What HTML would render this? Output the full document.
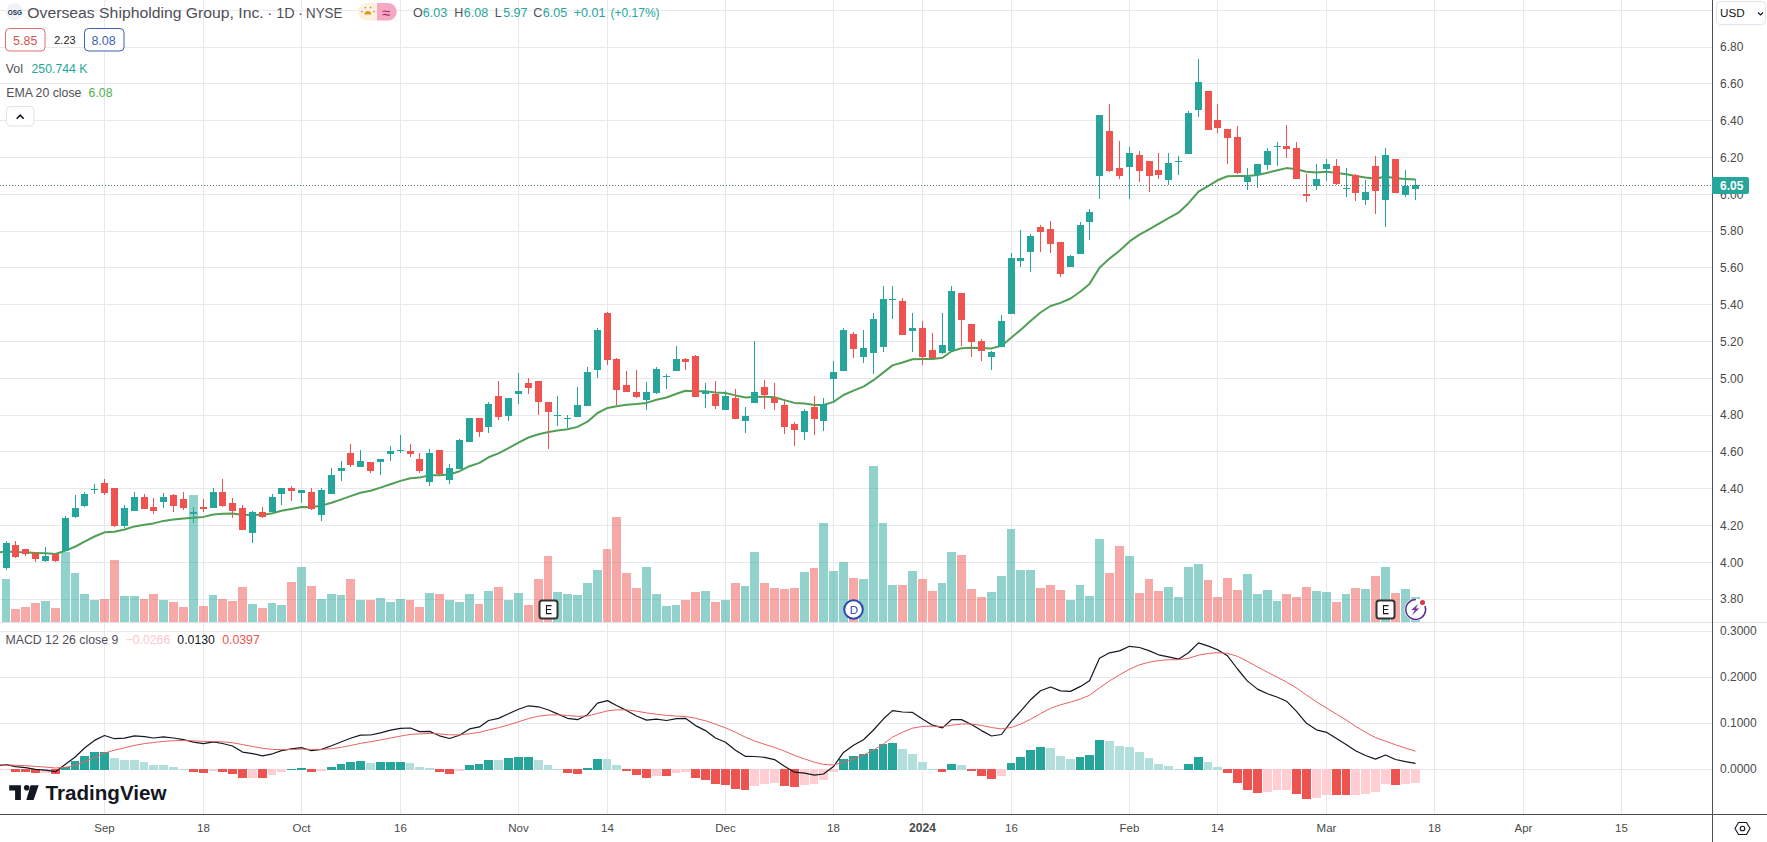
<!DOCTYPE html>
<html><head><meta charset="utf-8">
<style>
html,body{margin:0;padding:0;background:#fff;}
body{width:1767px;height:842px;position:relative;overflow:hidden;font-family:"Liberation Sans",sans-serif;}
svg{position:absolute;left:0;top:0;font-family:"Liberation Sans",sans-serif;}
</style></head><body>
<svg width="1767" height="842" viewBox="0 0 1767 842">
<g shape-rendering="crispEdges">
<line x1="0" y1="10.5" x2="1712" y2="10.5" stroke="#e7e9ec"/>
<line x1="0" y1="47.5" x2="1712" y2="47.5" stroke="#e7e9ec"/>
<line x1="0" y1="83.5" x2="1712" y2="83.5" stroke="#e7e9ec"/>
<line x1="0" y1="120.5" x2="1712" y2="120.5" stroke="#e7e9ec"/>
<line x1="0" y1="157.5" x2="1712" y2="157.5" stroke="#e7e9ec"/>
<line x1="0" y1="194.5" x2="1712" y2="194.5" stroke="#e7e9ec"/>
<line x1="0" y1="231.5" x2="1712" y2="231.5" stroke="#e7e9ec"/>
<line x1="0" y1="267.5" x2="1712" y2="267.5" stroke="#e7e9ec"/>
<line x1="0" y1="304.5" x2="1712" y2="304.5" stroke="#e7e9ec"/>
<line x1="0" y1="341.5" x2="1712" y2="341.5" stroke="#e7e9ec"/>
<line x1="0" y1="378.5" x2="1712" y2="378.5" stroke="#e7e9ec"/>
<line x1="0" y1="415.5" x2="1712" y2="415.5" stroke="#e7e9ec"/>
<line x1="0" y1="451.5" x2="1712" y2="451.5" stroke="#e7e9ec"/>
<line x1="0" y1="488.5" x2="1712" y2="488.5" stroke="#e7e9ec"/>
<line x1="0" y1="525.5" x2="1712" y2="525.5" stroke="#e7e9ec"/>
<line x1="0" y1="562.5" x2="1712" y2="562.5" stroke="#e7e9ec"/>
<line x1="0" y1="599.5" x2="1712" y2="599.5" stroke="#e7e9ec"/>
<line x1="0" y1="631.5" x2="1712" y2="631.5" stroke="#e7e9ec"/>
<line x1="0" y1="677.5" x2="1712" y2="677.5" stroke="#e7e9ec"/>
<line x1="0" y1="723.5" x2="1712" y2="723.5" stroke="#e7e9ec"/>
<line x1="0" y1="769.5" x2="1712" y2="769.5" stroke="#e7e9ec"/>
<line x1="104.5" y1="0" x2="104.5" y2="814" stroke="#e7e9ec"/>
<line x1="203.5" y1="0" x2="203.5" y2="814" stroke="#e7e9ec"/>
<line x1="301.5" y1="0" x2="301.5" y2="814" stroke="#e7e9ec"/>
<line x1="400.5" y1="0" x2="400.5" y2="814" stroke="#e7e9ec"/>
<line x1="518.5" y1="0" x2="518.5" y2="814" stroke="#e7e9ec"/>
<line x1="607.5" y1="0" x2="607.5" y2="814" stroke="#e7e9ec"/>
<line x1="725.5" y1="0" x2="725.5" y2="814" stroke="#e7e9ec"/>
<line x1="833.5" y1="0" x2="833.5" y2="814" stroke="#e7e9ec"/>
<line x1="922.5" y1="0" x2="922.5" y2="814" stroke="#e7e9ec"/>
<line x1="1011.5" y1="0" x2="1011.5" y2="814" stroke="#e7e9ec"/>
<line x1="1129.5" y1="0" x2="1129.5" y2="814" stroke="#e7e9ec"/>
<line x1="1217.5" y1="0" x2="1217.5" y2="814" stroke="#e7e9ec"/>
<line x1="1326.5" y1="0" x2="1326.5" y2="814" stroke="#e7e9ec"/>
<line x1="1434.5" y1="0" x2="1434.5" y2="814" stroke="#e7e9ec"/>
<line x1="1523.5" y1="0" x2="1523.5" y2="814" stroke="#e7e9ec"/>
<line x1="1621.5" y1="0" x2="1621.5" y2="814" stroke="#e7e9ec"/>
<rect x="2" y="579" width="8" height="43" fill="#26a69a" fill-opacity="0.5"/>
<rect x="11" y="609" width="9" height="13" fill="#ef5350" fill-opacity="0.5"/>
<rect x="21" y="607" width="9" height="15" fill="#ef5350" fill-opacity="0.5"/>
<rect x="31" y="603" width="9" height="19" fill="#ef5350" fill-opacity="0.5"/>
<rect x="41" y="601" width="9" height="21" fill="#26a69a" fill-opacity="0.5"/>
<rect x="51" y="608" width="9" height="14" fill="#ef5350" fill-opacity="0.5"/>
<rect x="61" y="552" width="9" height="70" fill="#26a69a" fill-opacity="0.5"/>
<rect x="71" y="573" width="8" height="49" fill="#26a69a" fill-opacity="0.5"/>
<rect x="80" y="594" width="9" height="28" fill="#26a69a" fill-opacity="0.5"/>
<rect x="90" y="600" width="9" height="22" fill="#26a69a" fill-opacity="0.5"/>
<rect x="100" y="599" width="9" height="23" fill="#ef5350" fill-opacity="0.5"/>
<rect x="110" y="560" width="9" height="62" fill="#ef5350" fill-opacity="0.5"/>
<rect x="120" y="596" width="9" height="26" fill="#26a69a" fill-opacity="0.5"/>
<rect x="130" y="596" width="9" height="26" fill="#26a69a" fill-opacity="0.5"/>
<rect x="140" y="599" width="8" height="23" fill="#ef5350" fill-opacity="0.5"/>
<rect x="149" y="594" width="9" height="28" fill="#ef5350" fill-opacity="0.5"/>
<rect x="159" y="600" width="9" height="22" fill="#26a69a" fill-opacity="0.5"/>
<rect x="169" y="602" width="9" height="20" fill="#ef5350" fill-opacity="0.5"/>
<rect x="179" y="607" width="9" height="15" fill="#ef5350" fill-opacity="0.5"/>
<rect x="189" y="495" width="9" height="127" fill="#26a69a" fill-opacity="0.5"/>
<rect x="199" y="606" width="9" height="16" fill="#ef5350" fill-opacity="0.5"/>
<rect x="209" y="595" width="8" height="27" fill="#26a69a" fill-opacity="0.5"/>
<rect x="218" y="599" width="9" height="23" fill="#ef5350" fill-opacity="0.5"/>
<rect x="228" y="601" width="9" height="21" fill="#ef5350" fill-opacity="0.5"/>
<rect x="238" y="587" width="9" height="35" fill="#ef5350" fill-opacity="0.5"/>
<rect x="248" y="604" width="9" height="18" fill="#26a69a" fill-opacity="0.5"/>
<rect x="258" y="608" width="9" height="14" fill="#ef5350" fill-opacity="0.5"/>
<rect x="268" y="603" width="8" height="19" fill="#26a69a" fill-opacity="0.5"/>
<rect x="277" y="605" width="9" height="17" fill="#26a69a" fill-opacity="0.5"/>
<rect x="287" y="582" width="9" height="40" fill="#ef5350" fill-opacity="0.5"/>
<rect x="297" y="567" width="9" height="55" fill="#26a69a" fill-opacity="0.5"/>
<rect x="307" y="586" width="9" height="36" fill="#ef5350" fill-opacity="0.5"/>
<rect x="317" y="599" width="9" height="23" fill="#26a69a" fill-opacity="0.5"/>
<rect x="327" y="594" width="9" height="28" fill="#26a69a" fill-opacity="0.5"/>
<rect x="337" y="595" width="8" height="27" fill="#26a69a" fill-opacity="0.5"/>
<rect x="346" y="579" width="9" height="43" fill="#ef5350" fill-opacity="0.5"/>
<rect x="356" y="600" width="9" height="22" fill="#26a69a" fill-opacity="0.5"/>
<rect x="366" y="600" width="9" height="22" fill="#ef5350" fill-opacity="0.5"/>
<rect x="376" y="598" width="9" height="24" fill="#26a69a" fill-opacity="0.5"/>
<rect x="386" y="602" width="9" height="20" fill="#26a69a" fill-opacity="0.5"/>
<rect x="396" y="599" width="9" height="23" fill="#26a69a" fill-opacity="0.5"/>
<rect x="406" y="600" width="8" height="22" fill="#ef5350" fill-opacity="0.5"/>
<rect x="415" y="607" width="9" height="15" fill="#ef5350" fill-opacity="0.5"/>
<rect x="425" y="593" width="9" height="29" fill="#26a69a" fill-opacity="0.5"/>
<rect x="435" y="594" width="9" height="28" fill="#ef5350" fill-opacity="0.5"/>
<rect x="445" y="600" width="9" height="22" fill="#26a69a" fill-opacity="0.5"/>
<rect x="455" y="602" width="9" height="20" fill="#26a69a" fill-opacity="0.5"/>
<rect x="465" y="594" width="9" height="28" fill="#26a69a" fill-opacity="0.5"/>
<rect x="475" y="604" width="8" height="18" fill="#ef5350" fill-opacity="0.5"/>
<rect x="484" y="591" width="9" height="31" fill="#26a69a" fill-opacity="0.5"/>
<rect x="494" y="587" width="9" height="35" fill="#ef5350" fill-opacity="0.5"/>
<rect x="504" y="600" width="9" height="22" fill="#26a69a" fill-opacity="0.5"/>
<rect x="514" y="593" width="9" height="29" fill="#26a69a" fill-opacity="0.5"/>
<rect x="524" y="605" width="9" height="17" fill="#ef5350" fill-opacity="0.5"/>
<rect x="534" y="579" width="9" height="43" fill="#ef5350" fill-opacity="0.5"/>
<rect x="544" y="556" width="8" height="66" fill="#ef5350" fill-opacity="0.5"/>
<rect x="553" y="592" width="9" height="30" fill="#26a69a" fill-opacity="0.5"/>
<rect x="563" y="594" width="9" height="28" fill="#26a69a" fill-opacity="0.5"/>
<rect x="573" y="595" width="9" height="27" fill="#26a69a" fill-opacity="0.5"/>
<rect x="583" y="583" width="9" height="39" fill="#26a69a" fill-opacity="0.5"/>
<rect x="593" y="570" width="9" height="52" fill="#26a69a" fill-opacity="0.5"/>
<rect x="603" y="549" width="8" height="73" fill="#ef5350" fill-opacity="0.5"/>
<rect x="612" y="517" width="9" height="105" fill="#ef5350" fill-opacity="0.5"/>
<rect x="622" y="573" width="9" height="49" fill="#ef5350" fill-opacity="0.5"/>
<rect x="632" y="588" width="9" height="34" fill="#ef5350" fill-opacity="0.5"/>
<rect x="642" y="567" width="9" height="55" fill="#26a69a" fill-opacity="0.5"/>
<rect x="652" y="594" width="9" height="28" fill="#26a69a" fill-opacity="0.5"/>
<rect x="662" y="606" width="9" height="16" fill="#26a69a" fill-opacity="0.5"/>
<rect x="672" y="605" width="8" height="17" fill="#26a69a" fill-opacity="0.5"/>
<rect x="681" y="600" width="9" height="22" fill="#ef5350" fill-opacity="0.5"/>
<rect x="691" y="592" width="9" height="30" fill="#ef5350" fill-opacity="0.5"/>
<rect x="701" y="591" width="9" height="31" fill="#26a69a" fill-opacity="0.5"/>
<rect x="711" y="602" width="9" height="20" fill="#ef5350" fill-opacity="0.5"/>
<rect x="721" y="600" width="9" height="22" fill="#26a69a" fill-opacity="0.5"/>
<rect x="731" y="583" width="9" height="39" fill="#ef5350" fill-opacity="0.5"/>
<rect x="741" y="586" width="8" height="36" fill="#26a69a" fill-opacity="0.5"/>
<rect x="750" y="552" width="9" height="70" fill="#26a69a" fill-opacity="0.5"/>
<rect x="760" y="583" width="9" height="39" fill="#ef5350" fill-opacity="0.5"/>
<rect x="770" y="588" width="9" height="34" fill="#ef5350" fill-opacity="0.5"/>
<rect x="780" y="589" width="9" height="33" fill="#ef5350" fill-opacity="0.5"/>
<rect x="790" y="588" width="9" height="34" fill="#ef5350" fill-opacity="0.5"/>
<rect x="800" y="572" width="9" height="50" fill="#26a69a" fill-opacity="0.5"/>
<rect x="810" y="568" width="8" height="54" fill="#ef5350" fill-opacity="0.5"/>
<rect x="819" y="523" width="9" height="99" fill="#26a69a" fill-opacity="0.5"/>
<rect x="829" y="571" width="9" height="51" fill="#26a69a" fill-opacity="0.5"/>
<rect x="839" y="562" width="9" height="60" fill="#26a69a" fill-opacity="0.5"/>
<rect x="849" y="578" width="9" height="44" fill="#ef5350" fill-opacity="0.5"/>
<rect x="859" y="579" width="9" height="43" fill="#26a69a" fill-opacity="0.5"/>
<rect x="869" y="466" width="9" height="156" fill="#26a69a" fill-opacity="0.5"/>
<rect x="879" y="523" width="8" height="99" fill="#26a69a" fill-opacity="0.5"/>
<rect x="888" y="585" width="9" height="37" fill="#26a69a" fill-opacity="0.5"/>
<rect x="898" y="585" width="9" height="37" fill="#ef5350" fill-opacity="0.5"/>
<rect x="908" y="571" width="9" height="51" fill="#26a69a" fill-opacity="0.5"/>
<rect x="918" y="579" width="9" height="43" fill="#ef5350" fill-opacity="0.5"/>
<rect x="928" y="591" width="9" height="31" fill="#ef5350" fill-opacity="0.5"/>
<rect x="938" y="583" width="8" height="39" fill="#26a69a" fill-opacity="0.5"/>
<rect x="947" y="552" width="9" height="70" fill="#26a69a" fill-opacity="0.5"/>
<rect x="957" y="555" width="9" height="67" fill="#ef5350" fill-opacity="0.5"/>
<rect x="967" y="589" width="9" height="33" fill="#ef5350" fill-opacity="0.5"/>
<rect x="977" y="597" width="9" height="25" fill="#ef5350" fill-opacity="0.5"/>
<rect x="987" y="592" width="9" height="30" fill="#26a69a" fill-opacity="0.5"/>
<rect x="997" y="576" width="9" height="46" fill="#26a69a" fill-opacity="0.5"/>
<rect x="1007" y="529" width="8" height="93" fill="#26a69a" fill-opacity="0.5"/>
<rect x="1016" y="570" width="9" height="52" fill="#26a69a" fill-opacity="0.5"/>
<rect x="1026" y="570" width="9" height="52" fill="#26a69a" fill-opacity="0.5"/>
<rect x="1036" y="588" width="9" height="34" fill="#ef5350" fill-opacity="0.5"/>
<rect x="1046" y="585" width="9" height="37" fill="#ef5350" fill-opacity="0.5"/>
<rect x="1056" y="590" width="9" height="32" fill="#ef5350" fill-opacity="0.5"/>
<rect x="1066" y="600" width="9" height="22" fill="#26a69a" fill-opacity="0.5"/>
<rect x="1076" y="585" width="8" height="37" fill="#26a69a" fill-opacity="0.5"/>
<rect x="1085" y="596" width="9" height="26" fill="#26a69a" fill-opacity="0.5"/>
<rect x="1095" y="539" width="9" height="83" fill="#26a69a" fill-opacity="0.5"/>
<rect x="1105" y="573" width="9" height="49" fill="#ef5350" fill-opacity="0.5"/>
<rect x="1115" y="546" width="9" height="76" fill="#ef5350" fill-opacity="0.5"/>
<rect x="1125" y="556" width="9" height="66" fill="#26a69a" fill-opacity="0.5"/>
<rect x="1135" y="593" width="9" height="29" fill="#ef5350" fill-opacity="0.5"/>
<rect x="1145" y="579" width="8" height="43" fill="#ef5350" fill-opacity="0.5"/>
<rect x="1154" y="591" width="9" height="31" fill="#ef5350" fill-opacity="0.5"/>
<rect x="1164" y="587" width="9" height="35" fill="#26a69a" fill-opacity="0.5"/>
<rect x="1174" y="597" width="9" height="25" fill="#26a69a" fill-opacity="0.5"/>
<rect x="1184" y="567" width="9" height="55" fill="#26a69a" fill-opacity="0.5"/>
<rect x="1194" y="564" width="9" height="58" fill="#26a69a" fill-opacity="0.5"/>
<rect x="1204" y="580" width="8" height="42" fill="#ef5350" fill-opacity="0.5"/>
<rect x="1213" y="597" width="9" height="25" fill="#ef5350" fill-opacity="0.5"/>
<rect x="1223" y="578" width="9" height="44" fill="#ef5350" fill-opacity="0.5"/>
<rect x="1233" y="590" width="9" height="32" fill="#ef5350" fill-opacity="0.5"/>
<rect x="1243" y="574" width="9" height="48" fill="#26a69a" fill-opacity="0.5"/>
<rect x="1253" y="594" width="9" height="28" fill="#26a69a" fill-opacity="0.5"/>
<rect x="1263" y="590" width="9" height="32" fill="#26a69a" fill-opacity="0.5"/>
<rect x="1273" y="601" width="8" height="21" fill="#26a69a" fill-opacity="0.5"/>
<rect x="1282" y="594" width="9" height="28" fill="#ef5350" fill-opacity="0.5"/>
<rect x="1292" y="597" width="9" height="25" fill="#ef5350" fill-opacity="0.5"/>
<rect x="1302" y="587" width="9" height="35" fill="#ef5350" fill-opacity="0.5"/>
<rect x="1312" y="591" width="9" height="31" fill="#26a69a" fill-opacity="0.5"/>
<rect x="1322" y="592" width="9" height="30" fill="#26a69a" fill-opacity="0.5"/>
<rect x="1332" y="602" width="9" height="20" fill="#ef5350" fill-opacity="0.5"/>
<rect x="1342" y="594" width="8" height="28" fill="#26a69a" fill-opacity="0.5"/>
<rect x="1351" y="588" width="9" height="34" fill="#ef5350" fill-opacity="0.5"/>
<rect x="1361" y="589" width="9" height="33" fill="#26a69a" fill-opacity="0.5"/>
<rect x="1371" y="576" width="9" height="46" fill="#ef5350" fill-opacity="0.5"/>
<rect x="1381" y="567" width="9" height="55" fill="#26a69a" fill-opacity="0.5"/>
<rect x="1391" y="593" width="9" height="29" fill="#ef5350" fill-opacity="0.5"/>
<rect x="1401" y="589" width="9" height="33" fill="#26a69a" fill-opacity="0.5"/>
<rect x="1411" y="597" width="9" height="25" fill="#26a69a" fill-opacity="0.5"/>
<polyline shape-rendering="geometricPrecision" points="-3.8,552.5 6.5,551.6 15.5,552.1 25.5,552.3 35.5,552.9 45.5,553.3 55.5,554.0 65.5,550.6 75.5,546.5 84.5,541.6 94.5,536.5 104.5,532.3 114.5,531.7 124.5,529.5 134.5,526.4 144.5,524.7 153.5,523.4 163.5,520.9 173.5,519.5 183.5,518.4 193.5,517.8 203.5,516.9 213.5,514.5 222.5,513.7 232.5,513.4 242.5,515.0 252.5,514.7 262.5,514.9 272.5,513.2 281.5,510.8 291.5,508.9 301.5,507.1 311.5,507.3 321.5,505.6 331.5,502.7 341.5,499.4 350.5,496.1 360.5,492.8 370.5,490.7 380.5,487.6 390.5,484.2 400.5,480.9 410.5,478.3 419.5,477.6 429.5,475.3 439.5,475.2 449.5,474.5 459.5,471.2 469.5,466.2 479.5,462.9 488.5,457.3 498.5,453.4 508.5,448.2 518.5,442.7 528.5,437.5 538.5,434.2 548.5,432.0 557.5,430.4 567.5,429.2 577.5,426.9 587.5,421.7 597.5,413.0 607.5,407.9 616.5,406.2 626.5,404.8 636.5,404.0 646.5,402.9 656.5,399.7 666.5,397.5 676.5,393.8 685.5,390.7 695.5,391.3 705.5,391.2 715.5,392.6 725.5,393.0 735.5,395.4 745.5,397.4 754.5,396.9 764.5,396.7 774.5,397.3 784.5,400.1 794.5,402.9 804.5,403.6 814.5,405.1 823.5,405.0 833.5,401.9 843.5,395.0 853.5,390.6 863.5,386.6 873.5,380.2 883.5,372.4 892.5,365.4 902.5,362.5 912.5,359.3 922.5,359.0 932.5,359.0 942.5,357.7 951.5,351.3 961.5,348.3 971.5,347.7 981.5,348.0 991.5,348.4 1001.5,345.8 1011.5,337.4 1020.5,329.9 1030.5,321.0 1040.5,312.5 1050.5,306.0 1060.5,302.9 1070.5,298.5 1080.5,291.5 1089.5,283.9 1099.5,267.8 1109.5,258.6 1119.5,250.7 1129.5,241.4 1139.5,234.7 1149.5,229.1 1158.5,223.9 1168.5,218.1 1178.5,212.7 1188.5,203.2 1198.5,191.7 1208.5,185.8 1217.5,180.3 1227.5,176.3 1237.5,176.0 1247.5,176.1 1257.5,174.9 1267.5,172.7 1277.5,170.2 1286.5,168.1 1296.5,169.2 1306.5,171.8 1316.5,172.5 1326.5,171.7 1336.5,172.9 1346.5,174.3 1355.5,176.1 1365.5,177.6 1375.5,178.8 1385.5,176.6 1395.5,178.2 1405.5,178.9 1415.5,179.5" fill="none" stroke="#519f55" stroke-width="2" stroke-linejoin="round"/>
<rect x="6" y="541" width="1" height="29" fill="#26a69a"/>
<rect x="3" y="543" width="7" height="25" fill="#26a69a"/>
<rect x="15" y="541" width="1" height="17" fill="#ef5350"/>
<rect x="12" y="545" width="7" height="12" fill="#ef5350"/>
<rect x="25" y="549" width="1" height="7" fill="#ef5350"/>
<rect x="22" y="549" width="7" height="5" fill="#ef5350"/>
<rect x="35" y="553" width="1" height="9" fill="#ef5350"/>
<rect x="32" y="553" width="7" height="6" fill="#ef5350"/>
<rect x="45" y="547" width="1" height="15" fill="#26a69a"/>
<rect x="42" y="556" width="7" height="5" fill="#26a69a"/>
<rect x="55" y="554" width="1" height="8" fill="#ef5350"/>
<rect x="52" y="554" width="7" height="7" fill="#ef5350"/>
<rect x="65" y="516" width="1" height="35" fill="#26a69a"/>
<rect x="62" y="518" width="7" height="33" fill="#26a69a"/>
<rect x="75" y="495" width="1" height="23" fill="#26a69a"/>
<rect x="72" y="508" width="7" height="9" fill="#26a69a"/>
<rect x="84" y="492" width="1" height="15" fill="#26a69a"/>
<rect x="81" y="494" width="7" height="12" fill="#26a69a"/>
<rect x="94" y="484" width="1" height="10" fill="#26a69a"/>
<rect x="91" y="489" width="7" height="1" fill="#26a69a"/>
<rect x="104" y="479" width="1" height="16" fill="#ef5350"/>
<rect x="101" y="483" width="7" height="10" fill="#ef5350"/>
<rect x="114" y="488" width="1" height="39" fill="#ef5350"/>
<rect x="111" y="488" width="7" height="38" fill="#ef5350"/>
<rect x="124" y="505" width="1" height="23" fill="#26a69a"/>
<rect x="121" y="508" width="7" height="18" fill="#26a69a"/>
<rect x="134" y="492" width="1" height="19" fill="#26a69a"/>
<rect x="131" y="497" width="7" height="14" fill="#26a69a"/>
<rect x="144" y="494" width="1" height="15" fill="#ef5350"/>
<rect x="141" y="497" width="7" height="12" fill="#ef5350"/>
<rect x="153" y="498" width="1" height="16" fill="#ef5350"/>
<rect x="150" y="507" width="7" height="4" fill="#ef5350"/>
<rect x="163" y="493" width="1" height="15" fill="#26a69a"/>
<rect x="160" y="497" width="7" height="5" fill="#26a69a"/>
<rect x="173" y="494" width="1" height="18" fill="#ef5350"/>
<rect x="170" y="495" width="7" height="11" fill="#ef5350"/>
<rect x="183" y="492" width="1" height="18" fill="#ef5350"/>
<rect x="180" y="499" width="7" height="9" fill="#ef5350"/>
<rect x="193" y="507" width="1" height="16" fill="#26a69a"/>
<rect x="190" y="512" width="7" height="2" fill="#26a69a"/>
<rect x="203" y="499" width="1" height="13" fill="#ef5350"/>
<rect x="200" y="507" width="7" height="2" fill="#ef5350"/>
<rect x="213" y="488" width="1" height="20" fill="#26a69a"/>
<rect x="210" y="492" width="7" height="16" fill="#26a69a"/>
<rect x="222" y="479" width="1" height="28" fill="#ef5350"/>
<rect x="219" y="492" width="7" height="14" fill="#ef5350"/>
<rect x="232" y="498" width="1" height="20" fill="#ef5350"/>
<rect x="229" y="503" width="7" height="8" fill="#ef5350"/>
<rect x="242" y="505" width="1" height="25" fill="#ef5350"/>
<rect x="239" y="508" width="7" height="22" fill="#ef5350"/>
<rect x="252" y="511" width="1" height="32" fill="#26a69a"/>
<rect x="249" y="512" width="7" height="21" fill="#26a69a"/>
<rect x="262" y="507" width="1" height="11" fill="#ef5350"/>
<rect x="259" y="512" width="7" height="5" fill="#ef5350"/>
<rect x="272" y="494" width="1" height="18" fill="#26a69a"/>
<rect x="269" y="497" width="7" height="15" fill="#26a69a"/>
<rect x="281" y="488" width="1" height="17" fill="#26a69a"/>
<rect x="278" y="488" width="7" height="6" fill="#26a69a"/>
<rect x="291" y="486" width="1" height="15" fill="#ef5350"/>
<rect x="288" y="488" width="7" height="3" fill="#ef5350"/>
<rect x="301" y="490" width="1" height="13" fill="#26a69a"/>
<rect x="298" y="490" width="7" height="3" fill="#26a69a"/>
<rect x="311" y="488" width="1" height="22" fill="#ef5350"/>
<rect x="308" y="492" width="7" height="17" fill="#ef5350"/>
<rect x="321" y="488" width="1" height="33" fill="#26a69a"/>
<rect x="318" y="490" width="7" height="25" fill="#26a69a"/>
<rect x="331" y="468" width="1" height="26" fill="#26a69a"/>
<rect x="328" y="475" width="7" height="19" fill="#26a69a"/>
<rect x="341" y="461" width="1" height="20" fill="#26a69a"/>
<rect x="338" y="468" width="7" height="3" fill="#26a69a"/>
<rect x="350" y="444" width="1" height="23" fill="#ef5350"/>
<rect x="347" y="453" width="7" height="12" fill="#ef5350"/>
<rect x="360" y="450" width="1" height="17" fill="#26a69a"/>
<rect x="357" y="461" width="7" height="6" fill="#26a69a"/>
<rect x="370" y="462" width="1" height="11" fill="#ef5350"/>
<rect x="367" y="462" width="7" height="9" fill="#ef5350"/>
<rect x="380" y="459" width="1" height="16" fill="#26a69a"/>
<rect x="377" y="459" width="7" height="3" fill="#26a69a"/>
<rect x="390" y="446" width="1" height="15" fill="#26a69a"/>
<rect x="387" y="451" width="7" height="3" fill="#26a69a"/>
<rect x="400" y="435" width="1" height="18" fill="#26a69a"/>
<rect x="397" y="450" width="7" height="1" fill="#26a69a"/>
<rect x="410" y="444" width="1" height="13" fill="#ef5350"/>
<rect x="407" y="451" width="7" height="3" fill="#ef5350"/>
<rect x="419" y="453" width="1" height="20" fill="#ef5350"/>
<rect x="416" y="459" width="7" height="12" fill="#ef5350"/>
<rect x="429" y="449" width="1" height="37" fill="#26a69a"/>
<rect x="426" y="453" width="7" height="29" fill="#26a69a"/>
<rect x="439" y="450" width="1" height="25" fill="#ef5350"/>
<rect x="436" y="450" width="7" height="24" fill="#ef5350"/>
<rect x="449" y="464" width="1" height="20" fill="#26a69a"/>
<rect x="446" y="468" width="7" height="12" fill="#26a69a"/>
<rect x="459" y="439" width="1" height="30" fill="#26a69a"/>
<rect x="456" y="440" width="7" height="29" fill="#26a69a"/>
<rect x="469" y="418" width="1" height="24" fill="#26a69a"/>
<rect x="466" y="418" width="7" height="24" fill="#26a69a"/>
<rect x="479" y="418" width="1" height="19" fill="#ef5350"/>
<rect x="476" y="418" width="7" height="14" fill="#ef5350"/>
<rect x="488" y="402" width="1" height="31" fill="#26a69a"/>
<rect x="485" y="404" width="7" height="23" fill="#26a69a"/>
<rect x="498" y="381" width="1" height="39" fill="#ef5350"/>
<rect x="495" y="396" width="7" height="21" fill="#ef5350"/>
<rect x="508" y="398" width="1" height="23" fill="#26a69a"/>
<rect x="505" y="398" width="7" height="18" fill="#26a69a"/>
<rect x="518" y="373" width="1" height="31" fill="#26a69a"/>
<rect x="515" y="391" width="7" height="3" fill="#26a69a"/>
<rect x="528" y="378" width="1" height="16" fill="#ef5350"/>
<rect x="525" y="383" width="7" height="5" fill="#ef5350"/>
<rect x="538" y="381" width="1" height="34" fill="#ef5350"/>
<rect x="535" y="381" width="7" height="21" fill="#ef5350"/>
<rect x="548" y="402" width="1" height="47" fill="#ef5350"/>
<rect x="545" y="402" width="7" height="10" fill="#ef5350"/>
<rect x="557" y="396" width="1" height="30" fill="#26a69a"/>
<rect x="554" y="415" width="7" height="1" fill="#26a69a"/>
<rect x="567" y="415" width="1" height="13" fill="#26a69a"/>
<rect x="564" y="418" width="7" height="1" fill="#26a69a"/>
<rect x="577" y="387" width="1" height="30" fill="#26a69a"/>
<rect x="574" y="405" width="7" height="12" fill="#26a69a"/>
<rect x="587" y="367" width="1" height="39" fill="#26a69a"/>
<rect x="584" y="372" width="7" height="34" fill="#26a69a"/>
<rect x="597" y="328" width="1" height="50" fill="#26a69a"/>
<rect x="594" y="330" width="7" height="40" fill="#26a69a"/>
<rect x="607" y="312" width="1" height="53" fill="#ef5350"/>
<rect x="604" y="313" width="7" height="47" fill="#ef5350"/>
<rect x="616" y="358" width="1" height="47" fill="#ef5350"/>
<rect x="613" y="359" width="7" height="31" fill="#ef5350"/>
<rect x="626" y="371" width="1" height="21" fill="#ef5350"/>
<rect x="623" y="385" width="7" height="7" fill="#ef5350"/>
<rect x="636" y="370" width="1" height="28" fill="#ef5350"/>
<rect x="633" y="392" width="7" height="5" fill="#ef5350"/>
<rect x="646" y="382" width="1" height="28" fill="#26a69a"/>
<rect x="643" y="392" width="7" height="8" fill="#26a69a"/>
<rect x="656" y="367" width="1" height="27" fill="#26a69a"/>
<rect x="653" y="369" width="7" height="24" fill="#26a69a"/>
<rect x="666" y="374" width="1" height="15" fill="#26a69a"/>
<rect x="663" y="376" width="7" height="1" fill="#26a69a"/>
<rect x="676" y="346" width="1" height="25" fill="#26a69a"/>
<rect x="673" y="359" width="7" height="12" fill="#26a69a"/>
<rect x="685" y="358" width="1" height="12" fill="#ef5350"/>
<rect x="682" y="359" width="7" height="3" fill="#ef5350"/>
<rect x="695" y="355" width="1" height="42" fill="#ef5350"/>
<rect x="692" y="356" width="7" height="41" fill="#ef5350"/>
<rect x="705" y="383" width="1" height="25" fill="#26a69a"/>
<rect x="702" y="391" width="7" height="3" fill="#26a69a"/>
<rect x="715" y="381" width="1" height="28" fill="#ef5350"/>
<rect x="712" y="394" width="7" height="12" fill="#ef5350"/>
<rect x="725" y="391" width="1" height="19" fill="#26a69a"/>
<rect x="722" y="396" width="7" height="14" fill="#26a69a"/>
<rect x="735" y="389" width="1" height="30" fill="#ef5350"/>
<rect x="732" y="398" width="7" height="21" fill="#ef5350"/>
<rect x="745" y="407" width="1" height="26" fill="#26a69a"/>
<rect x="742" y="416" width="7" height="5" fill="#26a69a"/>
<rect x="754" y="341" width="1" height="62" fill="#26a69a"/>
<rect x="751" y="392" width="7" height="11" fill="#26a69a"/>
<rect x="764" y="380" width="1" height="29" fill="#ef5350"/>
<rect x="761" y="387" width="7" height="8" fill="#ef5350"/>
<rect x="774" y="383" width="1" height="27" fill="#ef5350"/>
<rect x="771" y="398" width="7" height="5" fill="#ef5350"/>
<rect x="784" y="401" width="1" height="33" fill="#ef5350"/>
<rect x="781" y="405" width="7" height="22" fill="#ef5350"/>
<rect x="794" y="422" width="1" height="24" fill="#ef5350"/>
<rect x="791" y="424" width="7" height="6" fill="#ef5350"/>
<rect x="804" y="409" width="1" height="31" fill="#26a69a"/>
<rect x="801" y="411" width="7" height="21" fill="#26a69a"/>
<rect x="814" y="396" width="1" height="39" fill="#ef5350"/>
<rect x="811" y="407" width="7" height="12" fill="#ef5350"/>
<rect x="823" y="398" width="1" height="33" fill="#26a69a"/>
<rect x="820" y="404" width="7" height="17" fill="#26a69a"/>
<rect x="833" y="361" width="1" height="42" fill="#26a69a"/>
<rect x="830" y="372" width="7" height="7" fill="#26a69a"/>
<rect x="843" y="328" width="1" height="43" fill="#26a69a"/>
<rect x="840" y="330" width="7" height="41" fill="#26a69a"/>
<rect x="853" y="332" width="1" height="26" fill="#ef5350"/>
<rect x="850" y="334" width="7" height="15" fill="#ef5350"/>
<rect x="863" y="330" width="1" height="33" fill="#26a69a"/>
<rect x="860" y="348" width="7" height="9" fill="#26a69a"/>
<rect x="873" y="313" width="1" height="61" fill="#26a69a"/>
<rect x="870" y="319" width="7" height="34" fill="#26a69a"/>
<rect x="883" y="286" width="1" height="66" fill="#26a69a"/>
<rect x="880" y="299" width="7" height="48" fill="#26a69a"/>
<rect x="892" y="286" width="1" height="33" fill="#26a69a"/>
<rect x="889" y="299" width="7" height="1" fill="#26a69a"/>
<rect x="902" y="298" width="1" height="37" fill="#ef5350"/>
<rect x="899" y="301" width="7" height="34" fill="#ef5350"/>
<rect x="912" y="313" width="1" height="39" fill="#26a69a"/>
<rect x="909" y="328" width="7" height="3" fill="#26a69a"/>
<rect x="922" y="321" width="1" height="44" fill="#ef5350"/>
<rect x="919" y="328" width="7" height="29" fill="#ef5350"/>
<rect x="932" y="333" width="1" height="25" fill="#ef5350"/>
<rect x="929" y="350" width="7" height="8" fill="#ef5350"/>
<rect x="942" y="313" width="1" height="41" fill="#26a69a"/>
<rect x="939" y="345" width="7" height="8" fill="#26a69a"/>
<rect x="951" y="286" width="1" height="65" fill="#26a69a"/>
<rect x="948" y="291" width="7" height="60" fill="#26a69a"/>
<rect x="961" y="293" width="1" height="53" fill="#ef5350"/>
<rect x="958" y="293" width="7" height="27" fill="#ef5350"/>
<rect x="971" y="324" width="1" height="33" fill="#ef5350"/>
<rect x="968" y="324" width="7" height="18" fill="#ef5350"/>
<rect x="981" y="339" width="1" height="22" fill="#ef5350"/>
<rect x="978" y="341" width="7" height="10" fill="#ef5350"/>
<rect x="991" y="351" width="1" height="19" fill="#26a69a"/>
<rect x="988" y="352" width="7" height="5" fill="#26a69a"/>
<rect x="1001" y="315" width="1" height="32" fill="#26a69a"/>
<rect x="998" y="321" width="7" height="26" fill="#26a69a"/>
<rect x="1011" y="253" width="1" height="61" fill="#26a69a"/>
<rect x="1008" y="258" width="7" height="56" fill="#26a69a"/>
<rect x="1020" y="230" width="1" height="37" fill="#26a69a"/>
<rect x="1017" y="258" width="7" height="3" fill="#26a69a"/>
<rect x="1030" y="234" width="1" height="38" fill="#26a69a"/>
<rect x="1027" y="236" width="7" height="16" fill="#26a69a"/>
<rect x="1040" y="225" width="1" height="27" fill="#ef5350"/>
<rect x="1037" y="227" width="7" height="5" fill="#ef5350"/>
<rect x="1050" y="221" width="1" height="32" fill="#ef5350"/>
<rect x="1047" y="229" width="7" height="15" fill="#ef5350"/>
<rect x="1060" y="242" width="1" height="35" fill="#ef5350"/>
<rect x="1057" y="242" width="7" height="32" fill="#ef5350"/>
<rect x="1070" y="255" width="1" height="12" fill="#26a69a"/>
<rect x="1067" y="256" width="7" height="11" fill="#26a69a"/>
<rect x="1080" y="222" width="1" height="32" fill="#26a69a"/>
<rect x="1077" y="225" width="7" height="29" fill="#26a69a"/>
<rect x="1089" y="209" width="1" height="31" fill="#26a69a"/>
<rect x="1086" y="212" width="7" height="10" fill="#26a69a"/>
<rect x="1099" y="115" width="1" height="84" fill="#26a69a"/>
<rect x="1096" y="115" width="7" height="61" fill="#26a69a"/>
<rect x="1109" y="104" width="1" height="68" fill="#ef5350"/>
<rect x="1106" y="131" width="7" height="40" fill="#ef5350"/>
<rect x="1119" y="141" width="1" height="38" fill="#ef5350"/>
<rect x="1116" y="168" width="7" height="8" fill="#ef5350"/>
<rect x="1129" y="147" width="1" height="52" fill="#26a69a"/>
<rect x="1126" y="153" width="7" height="14" fill="#26a69a"/>
<rect x="1139" y="151" width="1" height="31" fill="#ef5350"/>
<rect x="1136" y="155" width="7" height="16" fill="#ef5350"/>
<rect x="1149" y="161" width="1" height="31" fill="#ef5350"/>
<rect x="1146" y="161" width="7" height="15" fill="#ef5350"/>
<rect x="1158" y="153" width="1" height="26" fill="#ef5350"/>
<rect x="1155" y="170" width="7" height="5" fill="#ef5350"/>
<rect x="1168" y="153" width="1" height="32" fill="#26a69a"/>
<rect x="1165" y="163" width="7" height="17" fill="#26a69a"/>
<rect x="1178" y="156" width="1" height="19" fill="#26a69a"/>
<rect x="1175" y="161" width="7" height="1" fill="#26a69a"/>
<rect x="1188" y="111" width="1" height="43" fill="#26a69a"/>
<rect x="1185" y="113" width="7" height="41" fill="#26a69a"/>
<rect x="1198" y="59" width="1" height="58" fill="#26a69a"/>
<rect x="1195" y="82" width="7" height="28" fill="#26a69a"/>
<rect x="1208" y="91" width="1" height="39" fill="#ef5350"/>
<rect x="1205" y="91" width="7" height="39" fill="#ef5350"/>
<rect x="1217" y="104" width="1" height="29" fill="#ef5350"/>
<rect x="1214" y="120" width="7" height="8" fill="#ef5350"/>
<rect x="1227" y="129" width="1" height="35" fill="#ef5350"/>
<rect x="1224" y="129" width="7" height="9" fill="#ef5350"/>
<rect x="1237" y="126" width="1" height="48" fill="#ef5350"/>
<rect x="1234" y="137" width="7" height="36" fill="#ef5350"/>
<rect x="1247" y="168" width="1" height="22" fill="#26a69a"/>
<rect x="1244" y="177" width="7" height="5" fill="#26a69a"/>
<rect x="1257" y="164" width="1" height="24" fill="#26a69a"/>
<rect x="1254" y="164" width="7" height="11" fill="#26a69a"/>
<rect x="1267" y="148" width="1" height="22" fill="#26a69a"/>
<rect x="1264" y="151" width="7" height="14" fill="#26a69a"/>
<rect x="1277" y="142" width="1" height="24" fill="#26a69a"/>
<rect x="1274" y="146" width="7" height="1" fill="#26a69a"/>
<rect x="1286" y="125" width="1" height="33" fill="#ef5350"/>
<rect x="1283" y="146" width="7" height="3" fill="#ef5350"/>
<rect x="1296" y="142" width="1" height="37" fill="#ef5350"/>
<rect x="1293" y="148" width="7" height="31" fill="#ef5350"/>
<rect x="1306" y="174" width="1" height="28" fill="#ef5350"/>
<rect x="1303" y="194" width="7" height="2" fill="#ef5350"/>
<rect x="1316" y="164" width="1" height="26" fill="#26a69a"/>
<rect x="1313" y="179" width="7" height="7" fill="#26a69a"/>
<rect x="1326" y="159" width="1" height="22" fill="#26a69a"/>
<rect x="1323" y="164" width="7" height="5" fill="#26a69a"/>
<rect x="1336" y="159" width="1" height="26" fill="#ef5350"/>
<rect x="1333" y="166" width="7" height="18" fill="#ef5350"/>
<rect x="1346" y="168" width="1" height="29" fill="#26a69a"/>
<rect x="1343" y="188" width="7" height="1" fill="#26a69a"/>
<rect x="1355" y="174" width="1" height="27" fill="#ef5350"/>
<rect x="1352" y="175" width="7" height="18" fill="#ef5350"/>
<rect x="1365" y="180" width="1" height="25" fill="#26a69a"/>
<rect x="1362" y="192" width="7" height="8" fill="#26a69a"/>
<rect x="1375" y="156" width="1" height="58" fill="#ef5350"/>
<rect x="1372" y="166" width="7" height="25" fill="#ef5350"/>
<rect x="1385" y="148" width="1" height="79" fill="#26a69a"/>
<rect x="1382" y="155" width="7" height="45" fill="#26a69a"/>
<rect x="1395" y="159" width="1" height="34" fill="#ef5350"/>
<rect x="1392" y="159" width="7" height="34" fill="#ef5350"/>
<rect x="1405" y="170" width="1" height="27" fill="#26a69a"/>
<rect x="1402" y="186" width="7" height="9" fill="#26a69a"/>
<rect x="1415" y="179" width="1" height="21" fill="#26a69a"/>
<rect x="1412" y="185" width="7" height="4" fill="#26a69a"/>
<path d="M0 185h1M3 185h1M6 185h1M9 185h1M12 185h1M15 185h1M18 185h1M21 185h1M24 185h1M27 185h1M30 185h1M33 185h1M36 185h1M39 185h1M42 185h1M45 185h1M48 185h1M51 185h1M54 185h1M57 185h1M60 185h1M63 185h1M66 185h1M69 185h1M72 185h1M75 185h1M78 185h1M81 185h1M84 185h1M87 185h1M90 185h1M93 185h1M96 185h1M99 185h1M102 185h1M105 185h1M108 185h1M111 185h1M114 185h1M117 185h1M120 185h1M123 185h1M126 185h1M129 185h1M132 185h1M135 185h1M138 185h1M141 185h1M144 185h1M147 185h1M150 185h1M153 185h1M156 185h1M159 185h1M162 185h1M165 185h1M168 185h1M171 185h1M174 185h1M177 185h1M180 185h1M183 185h1M186 185h1M189 185h1M192 185h1M195 185h1M198 185h1M201 185h1M204 185h1M207 185h1M210 185h1M213 185h1M216 185h1M219 185h1M222 185h1M225 185h1M228 185h1M231 185h1M234 185h1M237 185h1M240 185h1M243 185h1M246 185h1M249 185h1M252 185h1M255 185h1M258 185h1M261 185h1M264 185h1M267 185h1M270 185h1M273 185h1M276 185h1M279 185h1M282 185h1M285 185h1M288 185h1M291 185h1M294 185h1M297 185h1M300 185h1M303 185h1M306 185h1M309 185h1M312 185h1M315 185h1M318 185h1M321 185h1M324 185h1M327 185h1M330 185h1M333 185h1M336 185h1M339 185h1M342 185h1M345 185h1M348 185h1M351 185h1M354 185h1M357 185h1M360 185h1M363 185h1M366 185h1M369 185h1M372 185h1M375 185h1M378 185h1M381 185h1M384 185h1M387 185h1M390 185h1M393 185h1M396 185h1M399 185h1M402 185h1M405 185h1M408 185h1M411 185h1M414 185h1M417 185h1M420 185h1M423 185h1M426 185h1M429 185h1M432 185h1M435 185h1M438 185h1M441 185h1M444 185h1M447 185h1M450 185h1M453 185h1M456 185h1M459 185h1M462 185h1M465 185h1M468 185h1M471 185h1M474 185h1M477 185h1M480 185h1M483 185h1M486 185h1M489 185h1M492 185h1M495 185h1M498 185h1M501 185h1M504 185h1M507 185h1M510 185h1M513 185h1M516 185h1M519 185h1M522 185h1M525 185h1M528 185h1M531 185h1M534 185h1M537 185h1M540 185h1M543 185h1M546 185h1M549 185h1M552 185h1M555 185h1M558 185h1M561 185h1M564 185h1M567 185h1M570 185h1M573 185h1M576 185h1M579 185h1M582 185h1M585 185h1M588 185h1M591 185h1M594 185h1M597 185h1M600 185h1M603 185h1M606 185h1M609 185h1M612 185h1M615 185h1M618 185h1M621 185h1M624 185h1M627 185h1M630 185h1M633 185h1M636 185h1M639 185h1M642 185h1M645 185h1M648 185h1M651 185h1M654 185h1M657 185h1M660 185h1M663 185h1M666 185h1M669 185h1M672 185h1M675 185h1M678 185h1M681 185h1M684 185h1M687 185h1M690 185h1M693 185h1M696 185h1M699 185h1M702 185h1M705 185h1M708 185h1M711 185h1M714 185h1M717 185h1M720 185h1M723 185h1M726 185h1M729 185h1M732 185h1M735 185h1M738 185h1M741 185h1M744 185h1M747 185h1M750 185h1M753 185h1M756 185h1M759 185h1M762 185h1M765 185h1M768 185h1M771 185h1M774 185h1M777 185h1M780 185h1M783 185h1M786 185h1M789 185h1M792 185h1M795 185h1M798 185h1M801 185h1M804 185h1M807 185h1M810 185h1M813 185h1M816 185h1M819 185h1M822 185h1M825 185h1M828 185h1M831 185h1M834 185h1M837 185h1M840 185h1M843 185h1M846 185h1M849 185h1M852 185h1M855 185h1M858 185h1M861 185h1M864 185h1M867 185h1M870 185h1M873 185h1M876 185h1M879 185h1M882 185h1M885 185h1M888 185h1M891 185h1M894 185h1M897 185h1M900 185h1M903 185h1M906 185h1M909 185h1M912 185h1M915 185h1M918 185h1M921 185h1M924 185h1M927 185h1M930 185h1M933 185h1M936 185h1M939 185h1M942 185h1M945 185h1M948 185h1M951 185h1M954 185h1M957 185h1M960 185h1M963 185h1M966 185h1M969 185h1M972 185h1M975 185h1M978 185h1M981 185h1M984 185h1M987 185h1M990 185h1M993 185h1M996 185h1M999 185h1M1002 185h1M1005 185h1M1008 185h1M1011 185h1M1014 185h1M1017 185h1M1020 185h1M1023 185h1M1026 185h1M1029 185h1M1032 185h1M1035 185h1M1038 185h1M1041 185h1M1044 185h1M1047 185h1M1050 185h1M1053 185h1M1056 185h1M1059 185h1M1062 185h1M1065 185h1M1068 185h1M1071 185h1M1074 185h1M1077 185h1M1080 185h1M1083 185h1M1086 185h1M1089 185h1M1092 185h1M1095 185h1M1098 185h1M1101 185h1M1104 185h1M1107 185h1M1110 185h1M1113 185h1M1116 185h1M1119 185h1M1122 185h1M1125 185h1M1128 185h1M1131 185h1M1134 185h1M1137 185h1M1140 185h1M1143 185h1M1146 185h1M1149 185h1M1152 185h1M1155 185h1M1158 185h1M1161 185h1M1164 185h1M1167 185h1M1170 185h1M1173 185h1M1176 185h1M1179 185h1M1182 185h1M1185 185h1M1188 185h1M1191 185h1M1194 185h1M1197 185h1M1200 185h1M1203 185h1M1206 185h1M1209 185h1M1212 185h1M1215 185h1M1218 185h1M1221 185h1M1224 185h1M1227 185h1M1230 185h1M1233 185h1M1236 185h1M1239 185h1M1242 185h1M1245 185h1M1248 185h1M1251 185h1M1254 185h1M1257 185h1M1260 185h1M1263 185h1M1266 185h1M1269 185h1M1272 185h1M1275 185h1M1278 185h1M1281 185h1M1284 185h1M1287 185h1M1290 185h1M1293 185h1M1296 185h1M1299 185h1M1302 185h1M1305 185h1M1308 185h1M1311 185h1M1314 185h1M1317 185h1M1320 185h1M1323 185h1M1326 185h1M1329 185h1M1332 185h1M1335 185h1M1338 185h1M1341 185h1M1344 185h1M1347 185h1M1350 185h1M1353 185h1M1356 185h1M1359 185h1M1362 185h1M1365 185h1M1368 185h1M1371 185h1M1374 185h1M1377 185h1M1380 185h1M1383 185h1M1386 185h1M1389 185h1M1392 185h1M1395 185h1M1398 185h1M1401 185h1M1404 185h1M1407 185h1M1410 185h1M1413 185h1M1416 185h1M1419 185h1M1422 185h1M1425 185h1M1428 185h1M1431 185h1M1434 185h1M1437 185h1M1440 185h1M1443 185h1M1446 185h1M1449 185h1M1452 185h1M1455 185h1M1458 185h1M1461 185h1M1464 185h1M1467 185h1M1470 185h1M1473 185h1M1476 185h1M1479 185h1M1482 185h1M1485 185h1M1488 185h1M1491 185h1M1494 185h1M1497 185h1M1500 185h1M1503 185h1M1506 185h1M1509 185h1M1512 185h1M1515 185h1M1518 185h1M1521 185h1M1524 185h1M1527 185h1M1530 185h1M1533 185h1M1536 185h1M1539 185h1M1542 185h1M1545 185h1M1548 185h1M1551 185h1M1554 185h1M1557 185h1M1560 185h1M1563 185h1M1566 185h1M1569 185h1M1572 185h1M1575 185h1M1578 185h1M1581 185h1M1584 185h1M1587 185h1M1590 185h1M1593 185h1M1596 185h1M1599 185h1M1602 185h1M1605 185h1M1608 185h1M1611 185h1M1614 185h1M1617 185h1M1620 185h1M1623 185h1M1626 185h1M1629 185h1M1632 185h1M1635 185h1M1638 185h1M1641 185h1M1644 185h1M1647 185h1M1650 185h1M1653 185h1M1656 185h1M1659 185h1M1662 185h1M1665 185h1M1668 185h1M1671 185h1M1674 185h1M1677 185h1M1680 185h1M1683 185h1M1686 185h1M1689 185h1M1692 185h1M1695 185h1M1698 185h1M1701 185h1M1704 185h1M1707 185h1M1710 185h1" stroke="#52706c" stroke-width="1" transform="translate(0,0.5)"/>
<rect x="2" y="769" width="8" height="1" fill="#ffcdd2"/>
<rect x="11" y="769" width="9" height="3" fill="#ef5350"/>
<rect x="21" y="769" width="9" height="3" fill="#ef5350"/>
<rect x="31" y="769" width="9" height="4" fill="#ef5350"/>
<rect x="41" y="769" width="9" height="4" fill="#ffcdd2"/>
<rect x="51" y="769" width="9" height="5" fill="#ef5350"/>
<rect x="61" y="767" width="9" height="3" fill="#26a69a"/>
<rect x="71" y="761" width="8" height="9" fill="#26a69a"/>
<rect x="80" y="756" width="9" height="14" fill="#26a69a"/>
<rect x="90" y="752" width="9" height="18" fill="#26a69a"/>
<rect x="100" y="752" width="9" height="18" fill="#26a69a"/>
<rect x="110" y="758" width="9" height="12" fill="#b2dfdb"/>
<rect x="120" y="760" width="9" height="10" fill="#b2dfdb"/>
<rect x="130" y="760" width="9" height="10" fill="#b2dfdb"/>
<rect x="140" y="762" width="8" height="8" fill="#b2dfdb"/>
<rect x="149" y="765" width="9" height="5" fill="#b2dfdb"/>
<rect x="159" y="765" width="9" height="5" fill="#b2dfdb"/>
<rect x="169" y="767" width="9" height="3" fill="#b2dfdb"/>
<rect x="179" y="769" width="9" height="1" fill="#b2dfdb"/>
<rect x="189" y="769" width="9" height="3" fill="#ef5350"/>
<rect x="199" y="769" width="9" height="4" fill="#ef5350"/>
<rect x="209" y="769" width="8" height="2" fill="#ffcdd2"/>
<rect x="218" y="769" width="9" height="3" fill="#ef5350"/>
<rect x="228" y="769" width="9" height="5" fill="#ef5350"/>
<rect x="238" y="769" width="9" height="9" fill="#ef5350"/>
<rect x="248" y="769" width="9" height="9" fill="#ffcdd2"/>
<rect x="258" y="769" width="9" height="9" fill="#ef5350"/>
<rect x="268" y="769" width="8" height="6" fill="#ffcdd2"/>
<rect x="277" y="769" width="9" height="3" fill="#ffcdd2"/>
<rect x="287" y="769" width="9" height="1" fill="#26a69a"/>
<rect x="297" y="768" width="9" height="2" fill="#26a69a"/>
<rect x="307" y="769" width="9" height="3" fill="#ef5350"/>
<rect x="317" y="769" width="9" height="2" fill="#ffcdd2"/>
<rect x="327" y="767" width="9" height="3" fill="#26a69a"/>
<rect x="337" y="764" width="8" height="6" fill="#26a69a"/>
<rect x="346" y="762" width="9" height="8" fill="#26a69a"/>
<rect x="356" y="761" width="9" height="9" fill="#26a69a"/>
<rect x="366" y="763" width="9" height="7" fill="#b2dfdb"/>
<rect x="376" y="762" width="9" height="8" fill="#26a69a"/>
<rect x="386" y="762" width="9" height="8" fill="#26a69a"/>
<rect x="396" y="762" width="9" height="8" fill="#26a69a"/>
<rect x="406" y="763" width="8" height="7" fill="#b2dfdb"/>
<rect x="415" y="767" width="9" height="3" fill="#b2dfdb"/>
<rect x="425" y="768" width="9" height="2" fill="#b2dfdb"/>
<rect x="435" y="769" width="9" height="3" fill="#ef5350"/>
<rect x="445" y="769" width="9" height="5" fill="#ef5350"/>
<rect x="455" y="769" width="9" height="2" fill="#ffcdd2"/>
<rect x="465" y="765" width="9" height="5" fill="#26a69a"/>
<rect x="475" y="764" width="8" height="6" fill="#26a69a"/>
<rect x="484" y="760" width="9" height="10" fill="#26a69a"/>
<rect x="494" y="760" width="9" height="10" fill="#b2dfdb"/>
<rect x="504" y="758" width="9" height="12" fill="#26a69a"/>
<rect x="514" y="757" width="9" height="13" fill="#26a69a"/>
<rect x="524" y="757" width="9" height="13" fill="#26a69a"/>
<rect x="534" y="760" width="9" height="10" fill="#b2dfdb"/>
<rect x="544" y="765" width="8" height="5" fill="#b2dfdb"/>
<rect x="553" y="769" width="9" height="1" fill="#b2dfdb"/>
<rect x="563" y="769" width="9" height="4" fill="#ef5350"/>
<rect x="573" y="769" width="9" height="5" fill="#ef5350"/>
<rect x="583" y="768" width="9" height="2" fill="#26a69a"/>
<rect x="593" y="759" width="9" height="11" fill="#26a69a"/>
<rect x="603" y="759" width="8" height="11" fill="#b2dfdb"/>
<rect x="612" y="765" width="9" height="5" fill="#b2dfdb"/>
<rect x="622" y="769" width="9" height="2" fill="#ef5350"/>
<rect x="632" y="769" width="9" height="6" fill="#ef5350"/>
<rect x="642" y="769" width="9" height="9" fill="#ef5350"/>
<rect x="652" y="769" width="9" height="7" fill="#ffcdd2"/>
<rect x="662" y="769" width="9" height="7" fill="#ef5350"/>
<rect x="672" y="769" width="8" height="4" fill="#ffcdd2"/>
<rect x="681" y="769" width="9" height="3" fill="#ffcdd2"/>
<rect x="691" y="769" width="9" height="9" fill="#ef5350"/>
<rect x="701" y="769" width="9" height="11" fill="#ef5350"/>
<rect x="711" y="769" width="9" height="15" fill="#ef5350"/>
<rect x="721" y="769" width="9" height="16" fill="#ef5350"/>
<rect x="731" y="769" width="9" height="20" fill="#ef5350"/>
<rect x="741" y="769" width="8" height="21" fill="#ef5350"/>
<rect x="750" y="769" width="9" height="17" fill="#ffcdd2"/>
<rect x="760" y="769" width="9" height="15" fill="#ffcdd2"/>
<rect x="770" y="769" width="9" height="14" fill="#ffcdd2"/>
<rect x="780" y="769" width="9" height="17" fill="#ef5350"/>
<rect x="790" y="769" width="9" height="18" fill="#ef5350"/>
<rect x="800" y="769" width="9" height="16" fill="#ffcdd2"/>
<rect x="810" y="769" width="8" height="15" fill="#ffcdd2"/>
<rect x="819" y="769" width="9" height="11" fill="#ffcdd2"/>
<rect x="829" y="769" width="9" height="3" fill="#ffcdd2"/>
<rect x="839" y="759" width="9" height="11" fill="#26a69a"/>
<rect x="849" y="756" width="9" height="14" fill="#26a69a"/>
<rect x="859" y="754" width="9" height="16" fill="#26a69a"/>
<rect x="869" y="749" width="9" height="21" fill="#26a69a"/>
<rect x="879" y="744" width="8" height="26" fill="#26a69a"/>
<rect x="888" y="743" width="9" height="27" fill="#26a69a"/>
<rect x="898" y="749" width="9" height="21" fill="#b2dfdb"/>
<rect x="908" y="754" width="9" height="16" fill="#b2dfdb"/>
<rect x="918" y="762" width="9" height="8" fill="#b2dfdb"/>
<rect x="928" y="769" width="9" height="1" fill="#b2dfdb"/>
<rect x="938" y="769" width="8" height="3" fill="#ef5350"/>
<rect x="947" y="764" width="9" height="6" fill="#26a69a"/>
<rect x="957" y="765" width="9" height="5" fill="#b2dfdb"/>
<rect x="967" y="769" width="9" height="2" fill="#ef5350"/>
<rect x="977" y="769" width="9" height="7" fill="#ef5350"/>
<rect x="987" y="769" width="9" height="10" fill="#ef5350"/>
<rect x="997" y="769" width="9" height="7" fill="#ffcdd2"/>
<rect x="1007" y="763" width="8" height="7" fill="#26a69a"/>
<rect x="1016" y="757" width="9" height="13" fill="#26a69a"/>
<rect x="1026" y="750" width="9" height="20" fill="#26a69a"/>
<rect x="1036" y="747" width="9" height="23" fill="#26a69a"/>
<rect x="1046" y="748" width="9" height="22" fill="#b2dfdb"/>
<rect x="1056" y="756" width="9" height="14" fill="#b2dfdb"/>
<rect x="1066" y="759" width="9" height="11" fill="#b2dfdb"/>
<rect x="1076" y="757" width="8" height="13" fill="#26a69a"/>
<rect x="1085" y="755" width="9" height="15" fill="#26a69a"/>
<rect x="1095" y="740" width="9" height="30" fill="#26a69a"/>
<rect x="1105" y="741" width="9" height="29" fill="#b2dfdb"/>
<rect x="1115" y="746" width="9" height="24" fill="#b2dfdb"/>
<rect x="1125" y="747" width="9" height="23" fill="#b2dfdb"/>
<rect x="1135" y="752" width="9" height="18" fill="#b2dfdb"/>
<rect x="1145" y="758" width="8" height="12" fill="#b2dfdb"/>
<rect x="1154" y="764" width="9" height="6" fill="#b2dfdb"/>
<rect x="1164" y="766" width="9" height="4" fill="#b2dfdb"/>
<rect x="1174" y="769" width="9" height="1" fill="#b2dfdb"/>
<rect x="1184" y="764" width="9" height="6" fill="#26a69a"/>
<rect x="1194" y="757" width="9" height="13" fill="#26a69a"/>
<rect x="1204" y="762" width="8" height="8" fill="#b2dfdb"/>
<rect x="1213" y="767" width="9" height="3" fill="#b2dfdb"/>
<rect x="1223" y="769" width="9" height="4" fill="#ef5350"/>
<rect x="1233" y="769" width="9" height="14" fill="#ef5350"/>
<rect x="1243" y="769" width="9" height="21" fill="#ef5350"/>
<rect x="1253" y="769" width="9" height="24" fill="#ef5350"/>
<rect x="1263" y="769" width="9" height="23" fill="#ffcdd2"/>
<rect x="1273" y="769" width="8" height="21" fill="#ffcdd2"/>
<rect x="1282" y="769" width="9" height="21" fill="#ffcdd2"/>
<rect x="1292" y="769" width="9" height="25" fill="#ef5350"/>
<rect x="1302" y="769" width="9" height="30" fill="#ef5350"/>
<rect x="1312" y="769" width="9" height="29" fill="#ffcdd2"/>
<rect x="1322" y="769" width="9" height="26" fill="#ffcdd2"/>
<rect x="1332" y="769" width="9" height="26" fill="#ef5350"/>
<rect x="1342" y="769" width="8" height="26" fill="#ef5350"/>
<rect x="1351" y="769" width="9" height="26" fill="#ffcdd2"/>
<rect x="1361" y="769" width="9" height="25" fill="#ffcdd2"/>
<rect x="1371" y="769" width="9" height="23" fill="#ffcdd2"/>
<rect x="1381" y="769" width="9" height="15" fill="#ffcdd2"/>
<rect x="1391" y="769" width="9" height="16" fill="#ef5350"/>
<rect x="1401" y="769" width="9" height="15" fill="#ffcdd2"/>
<rect x="1411" y="769" width="9" height="14" fill="#ffcdd2"/>
<line x1="0" y1="622.5" x2="1767" y2="622.5" stroke="#e0e3eb"/>
<line x1="1712.5" y1="0" x2="1712.5" y2="842" stroke="#4b4d52"/>
<line x1="0" y1="814.5" x2="1767" y2="814.5" stroke="#4b4d52"/>
</g>
<polyline points="-3.8,765.8 6.5,764.7 15.5,766.6 25.5,767.6 35.5,769.3 45.5,770.1 55.5,771.7 65.5,764.3 75.5,756.7 84.5,748.0 94.5,740.4 104.5,735.5 114.5,738.7 124.5,738.1 134.5,735.8 144.5,736.6 153.5,738.0 163.5,736.8 173.5,738.0 183.5,739.6 193.5,742.1 203.5,743.6 213.5,741.8 222.5,743.5 232.5,746.0 242.5,752.1 252.5,753.6 262.5,755.9 272.5,753.8 281.5,750.6 291.5,748.9 301.5,747.6 311.5,750.7 321.5,749.4 331.5,745.7 341.5,741.7 350.5,738.3 360.5,735.1 370.5,735.0 380.5,732.9 390.5,730.2 400.5,728.3 410.5,728.0 419.5,731.6 429.5,731.4 439.5,735.8 449.5,738.5 459.5,735.3 469.5,728.9 479.5,726.9 488.5,720.5 498.5,718.4 508.5,713.8 518.5,709.3 528.5,705.8 538.5,706.8 548.5,710.0 557.5,713.9 567.5,718.3 577.5,719.7 587.5,714.7 597.5,703.1 607.5,700.6 616.5,705.5 626.5,710.4 636.5,716.0 646.5,720.1 656.5,719.2 666.5,720.5 676.5,718.7 685.5,718.3 695.5,725.6 705.5,730.6 715.5,738.0 725.5,742.2 735.5,750.3 745.5,756.4 754.5,756.5 764.5,757.3 774.5,759.6 784.5,766.3 794.5,772.2 804.5,773.1 814.5,775.2 823.5,774.0 833.5,766.6 843.5,752.4 853.5,745.2 863.5,739.7 873.5,730.0 883.5,718.8 892.5,710.6 902.5,712.0 912.5,712.4 922.5,719.1 932.5,725.2 942.5,727.9 951.5,719.7 961.5,719.6 971.5,724.5 981.5,730.6 991.5,736.0 1001.5,734.5 1011.5,721.2 1020.5,711.3 1030.5,699.8 1040.5,690.8 1050.5,687.0 1060.5,690.9 1070.5,691.4 1080.5,686.4 1089.5,680.8 1099.5,658.2 1109.5,652.8 1119.5,650.9 1129.5,646.3 1139.5,647.5 1149.5,650.9 1158.5,654.8 1168.5,656.8 1178.5,659.2 1188.5,652.8 1198.5,642.9 1208.5,646.1 1217.5,649.7 1227.5,655.8 1237.5,669.0 1247.5,681.1 1257.5,689.1 1267.5,693.7 1277.5,697.2 1286.5,701.2 1296.5,711.3 1306.5,723.3 1316.5,729.8 1326.5,732.3 1336.5,738.6 1346.5,744.7 1355.5,750.7 1365.5,755.5 1375.5,759.1 1385.5,755.0 1395.5,759.5 1405.5,761.7 1415.5,763.4" fill="none" stroke="#131722" stroke-width="1.2" stroke-linejoin="round"/>
<polyline points="-3.8,764.9 6.5,764.9 15.5,765.2 25.5,765.7 35.5,766.4 45.5,767.1 55.5,768.0 65.5,767.3 75.5,765.2 84.5,761.8 94.5,757.5 104.5,753.1 114.5,750.2 124.5,747.8 134.5,745.4 144.5,743.6 153.5,742.5 163.5,741.4 173.5,740.7 183.5,740.5 193.5,740.8 203.5,741.4 213.5,741.5 222.5,741.9 232.5,742.7 242.5,744.6 252.5,746.4 262.5,748.3 272.5,749.4 281.5,749.6 291.5,749.5 301.5,749.1 311.5,749.4 321.5,749.4 331.5,748.7 341.5,747.3 350.5,745.5 360.5,743.4 370.5,741.7 380.5,740.0 390.5,738.0 400.5,736.1 410.5,734.4 419.5,733.9 429.5,733.4 439.5,733.9 449.5,734.8 459.5,734.9 469.5,733.7 479.5,732.3 488.5,730.0 498.5,727.7 508.5,724.9 518.5,721.8 528.5,718.6 538.5,716.2 548.5,715.0 557.5,714.8 567.5,715.5 577.5,716.3 587.5,716.0 597.5,713.4 607.5,710.9 616.5,709.8 626.5,709.9 636.5,711.1 646.5,712.9 656.5,714.2 666.5,715.4 676.5,716.1 685.5,716.5 695.5,718.3 705.5,720.8 715.5,724.2 725.5,727.8 735.5,732.3 745.5,737.2 754.5,741.0 764.5,744.3 774.5,747.4 784.5,751.1 794.5,755.4 804.5,758.9 814.5,762.2 823.5,764.5 833.5,764.9 843.5,762.4 853.5,759.0 863.5,755.1 873.5,750.1 883.5,743.9 892.5,737.2 902.5,732.2 912.5,728.2 922.5,726.4 932.5,726.2 942.5,726.5 951.5,725.2 961.5,724.0 971.5,724.1 981.5,725.4 991.5,727.5 1001.5,728.9 1011.5,727.4 1020.5,724.2 1030.5,719.3 1040.5,713.6 1050.5,708.3 1060.5,704.8 1070.5,702.1 1080.5,699.0 1089.5,695.3 1099.5,687.9 1109.5,680.9 1119.5,674.9 1129.5,669.2 1139.5,664.8 1149.5,662.1 1158.5,660.6 1168.5,659.8 1178.5,659.7 1188.5,658.3 1198.5,655.2 1208.5,653.4 1217.5,652.7 1227.5,653.3 1237.5,656.4 1247.5,661.4 1257.5,666.9 1267.5,672.3 1277.5,677.3 1286.5,682.1 1296.5,687.9 1306.5,695.0 1316.5,701.9 1326.5,708.0 1336.5,714.1 1346.5,720.2 1355.5,726.3 1365.5,732.2 1375.5,737.6 1385.5,741.1 1395.5,744.8 1405.5,748.1 1415.5,751.2" fill="none" stroke="#e8625f" stroke-width="1" stroke-linejoin="round"/>
<text x="104.5" y="832.4" font-size="11.5" fill="#4a4a4a" font-weight="normal" text-anchor="middle">Sep</text>
<text x="203.5" y="832.4" font-size="11.5" fill="#4a4a4a" font-weight="normal" text-anchor="middle">18</text>
<text x="301.5" y="832.4" font-size="11.5" fill="#4a4a4a" font-weight="normal" text-anchor="middle">Oct</text>
<text x="400.5" y="832.4" font-size="11.5" fill="#4a4a4a" font-weight="normal" text-anchor="middle">16</text>
<text x="518.5" y="832.4" font-size="11.5" fill="#4a4a4a" font-weight="normal" text-anchor="middle">Nov</text>
<text x="607.5" y="832.4" font-size="11.5" fill="#4a4a4a" font-weight="normal" text-anchor="middle">14</text>
<text x="725.5" y="832.4" font-size="11.5" fill="#4a4a4a" font-weight="normal" text-anchor="middle">Dec</text>
<text x="833.5" y="832.4" font-size="11.5" fill="#4a4a4a" font-weight="normal" text-anchor="middle">18</text>
<text x="922.5" y="832.4" font-size="12.1" fill="#4a4a4a" font-weight="bold" text-anchor="middle">2024</text>
<text x="1011.5" y="832.4" font-size="11.5" fill="#4a4a4a" font-weight="normal" text-anchor="middle">16</text>
<text x="1129.5" y="832.4" font-size="11.5" fill="#4a4a4a" font-weight="normal" text-anchor="middle">Feb</text>
<text x="1217.5" y="832.4" font-size="11.5" fill="#4a4a4a" font-weight="normal" text-anchor="middle">14</text>
<text x="1326.5" y="832.4" font-size="11.5" fill="#4a4a4a" font-weight="normal" text-anchor="middle">Mar</text>
<text x="1434.5" y="832.4" font-size="11.5" fill="#4a4a4a" font-weight="normal" text-anchor="middle">18</text>
<text x="1523.5" y="832.4" font-size="11.5" fill="#4a4a4a" font-weight="normal" text-anchor="middle">Apr</text>
<text x="1621.5" y="832.4" font-size="11.5" fill="#4a4a4a" font-weight="normal" text-anchor="middle">15</text>
<text x="1720" y="51.300000000000004" font-size="12" fill="#4a4a4a" font-weight="normal" text-anchor="start">6.80</text>
<text x="1720" y="88.10000000000004" font-size="12" fill="#4a4a4a" font-weight="normal" text-anchor="start">6.60</text>
<text x="1720" y="124.8999999999999" font-size="12" fill="#4a4a4a" font-weight="normal" text-anchor="start">6.40</text>
<text x="1720" y="161.69999999999993" font-size="12" fill="#4a4a4a" font-weight="normal" text-anchor="start">6.20</text>
<text x="1720" y="198.49999999999994" font-size="12" fill="#4a4a4a" font-weight="normal" text-anchor="start">6.00</text>
<text x="1720" y="235.29999999999998" font-size="12" fill="#4a4a4a" font-weight="normal" text-anchor="start">5.80</text>
<text x="1720" y="272.1" font-size="12" fill="#4a4a4a" font-weight="normal" text-anchor="start">5.60</text>
<text x="1720" y="308.8999999999999" font-size="12" fill="#4a4a4a" font-weight="normal" text-anchor="start">5.40</text>
<text x="1720" y="345.69999999999993" font-size="12" fill="#4a4a4a" font-weight="normal" text-anchor="start">5.20</text>
<text x="1720" y="382.5" font-size="12" fill="#4a4a4a" font-weight="normal" text-anchor="start">5.00</text>
<text x="1720" y="419.3" font-size="12" fill="#4a4a4a" font-weight="normal" text-anchor="start">4.80</text>
<text x="1720" y="456.1" font-size="12" fill="#4a4a4a" font-weight="normal" text-anchor="start">4.60</text>
<text x="1720" y="492.8999999999999" font-size="12" fill="#4a4a4a" font-weight="normal" text-anchor="start">4.40</text>
<text x="1720" y="529.7000000000002" font-size="12" fill="#4a4a4a" font-weight="normal" text-anchor="start">4.20</text>
<text x="1720" y="566.5" font-size="12" fill="#4a4a4a" font-weight="normal" text-anchor="start">4.00</text>
<text x="1720" y="603.3000000000001" font-size="12" fill="#4a4a4a" font-weight="normal" text-anchor="start">3.80</text>
<text x="1720" y="635.4" font-size="12" fill="#4a4a4a" font-weight="normal" text-anchor="start">0.3000</text>
<text x="1720" y="681.4" font-size="12" fill="#4a4a4a" font-weight="normal" text-anchor="start">0.2000</text>
<text x="1720" y="727.4" font-size="12" fill="#4a4a4a" font-weight="normal" text-anchor="start">0.1000</text>
<text x="1720" y="773.4" font-size="12" fill="#4a4a4a" font-weight="normal" text-anchor="start">0.0000</text>
<!-- price tag -->
<path d="M1712 177 H1747 Q1749 177 1749 179 V192 Q1749 194 1747 194 H1712 Z" fill="#26a69a"/>
<text x="1720" y="190" font-size="12" font-weight="bold" fill="#fff">6.05</text>
<!-- USD -->
<rect x="1716.5" y="1.5" width="49" height="23" rx="4" fill="#fff" stroke="#e0e3eb"/>
<text x="1720" y="16.7" font-size="11.7" fill="#131722">USD</text>
<path d="M1758 12.5 L1760.5 15 L1763 12.5" fill="none" stroke="#131722" stroke-width="1.2"/>
<!-- markers -->
<rect x="539.5" y="600.5" width="18" height="18" rx="2.5" fill="#fff" stroke="#333" stroke-width="2"/>
<path d="M551.6 605.6 H546.5 V613.6 H551.6 M546.5 609.5 H551.2" fill="none" stroke="#131722" stroke-width="1.1"/>
<rect x="1376.5" y="600.5" width="18" height="18" rx="2.5" fill="#fff" stroke="#333" stroke-width="2"/>
<path d="M1388.6 605.6 H1383.5 V613.6 H1388.6 M1383.5 609.5 H1388.2" fill="none" stroke="#131722" stroke-width="1.1"/>
<circle cx="853.5" cy="609.5" r="9.3" fill="#fff" stroke="#3047b0" stroke-width="2"/>
<text x="853.8" y="613.8" font-size="11.5" fill="#3047b0" text-anchor="middle">D</text>
<circle cx="1415.5" cy="609.5" r="11" fill="#fff" fill-opacity="0.95"/>
<path d="M1416 599.6 A9.9 9.9 0 1 0 1425 606" fill="none" stroke="#5e2a8c" stroke-width="1.5"/>
<circle cx="1422.5" cy="602.5" r="2.5" fill="#e0314b"/>
<path d="M1418.2 604 L1411.2 609.9 L1414.8 609.9 L1412 615 L1419.4 608.6 L1415.8 608.6 Z" fill="#7b2fa0"/>
<!-- hexagon -->
<path d="M1738.5 822.5 L1746.5 822.5 L1750 828.5 L1746.5 834.5 L1738.5 834.5 L1735 828.5 Z" fill="none" stroke="#131722" stroke-width="1.1"/>
<circle cx="1742.5" cy="828.5" r="2.3" fill="none" stroke="#131722" stroke-width="1.1"/>
<!-- TV logo -->
<path d="M9.2 785.2 H20.9 V800 H15.1 V790.6 H9.2 Z" fill="#131722"/>
<circle cx="26.7" cy="787.8" r="2.8" fill="#131722"/>
<path d="M30.6 785.2 H38.7 L33.6 800 H26.3 Z" fill="#131722"/>
<text x="45.5" y="800" font-size="20.3" font-weight="bold" fill="#131722" textLength="121" lengthAdjust="spacingAndGlyphs">TradingView</text>
<!-- header -->
<circle cx="14.5" cy="11.7" r="8.7" fill="#f1f3f8"/>
<text x="7.8" y="14.8" font-size="8" font-weight="bold" fill="#1b2f55" textLength="14.3" lengthAdjust="spacingAndGlyphs">OSG</text>
<g font-size="15.1" fill="#4f4f57">
<text x="27.35" y="18" textLength="236.4" lengthAdjust="spacingAndGlyphs">Overseas Shipholding Group, Inc.</text>
<text x="269.7" y="18" text-anchor="middle">·</text>
<text x="276.3" y="18" textLength="18.4" lengthAdjust="spacingAndGlyphs">1D</text>
<text x="300.5" y="18" text-anchor="middle">·</text>
<text x="306.1" y="18" textLength="36.3" lengthAdjust="spacingAndGlyphs">NYSE</text>
</g>
<path d="M366.8 3 H377 V20.5 H366.8 A8.75 8.75 0 0 1 366.8 3 Z" fill="#fdf0dc"/>
<path d="M377 3 H388 A8.75 8.75 0 0 1 388 20.5 H377 Z" fill="#f4a8c6"/>
<path d="M364.5 14.5 A3.4 3.6 0 0 1 371.3 14.5 Z" fill="#e8961a"/>
<circle cx="365.3" cy="7.8" r="0.8" fill="#a08060"/><circle cx="370.6" cy="7.6" r="0.8" fill="#a08060"/>
<circle cx="361.8" cy="11.6" r="0.8" fill="#a08060"/><circle cx="374" cy="11.6" r="0.8" fill="#a08060"/>
<text x="386" y="17.5" font-size="15" fill="#a8285a" text-anchor="middle">≈</text>
<rect x="5.5" y="28.5" width="39.5" height="22.5" rx="4" fill="#fff" stroke="#e07070"/>
<text x="13" y="44.8" font-size="12.5" fill="#d9534f">5.85</text>
<text x="54.3" y="44.4" font-size="10.9" fill="#222">2.23</text>
<rect x="84.5" y="28.5" width="39.5" height="22.5" rx="4" fill="#fff" stroke="#3d5fb8"/>
<text x="91.4" y="44.8" font-size="12.5" fill="#3d5fb8">8.08</text>
<text x="5.8" y="72.8" font-size="12.3" fill="#4f4f57">Vol</text>
<text x="31.5" y="72.8" font-size="12.3" fill="#26a69a">250.744 K</text>
<text x="6.2" y="96.9" font-size="12.3" fill="#4f4f57">EMA 20 close</text>
<text x="88.6" y="96.9" font-size="12.3" fill="#4caf50">6.08</text>
<rect x="6.5" y="106.5" width="27.5" height="19.5" rx="4" fill="#fff" stroke="#e0e3eb"/>
<path d="M16.7 118.7 L20.2 115.2 L23.7 118.7" fill="none" stroke="#131722" stroke-width="1.6"/>
<g font-size="12.5">
<text x="413" y="17" fill="#4f4f57">O</text><text x="422.8" y="17" fill="#26a69a">6.03</text>
<text x="454.2" y="17" fill="#4f4f57">H</text><text x="463.8" y="17" fill="#26a69a">6.08</text>
<text x="494.8" y="17" fill="#4f4f57">L</text><text x="503.2" y="17" fill="#26a69a">5.97</text>
<text x="533.3" y="17" fill="#4f4f57">C</text><text x="542.8" y="17" fill="#26a69a">6.05</text>
<text x="573.8" y="17" fill="#26a69a">+0.01</text><text x="610.6" y="17" fill="#26a69a" textLength="49" lengthAdjust="spacingAndGlyphs">(+0.17%)</text>
</g>
<g font-size="12.3">
<text x="5.5" y="643.7" fill="#4f4f57">MACD 12 26 close 9</text>
<text x="125.5" y="643.7" fill="#f9c9cd">−0.0266</text>
<text x="177.3" y="643.7" fill="#131722">0.0130</text>
<text x="222.2" y="643.7" fill="#ef5350">0.0397</text>
</g>
</svg>
</body></html>
